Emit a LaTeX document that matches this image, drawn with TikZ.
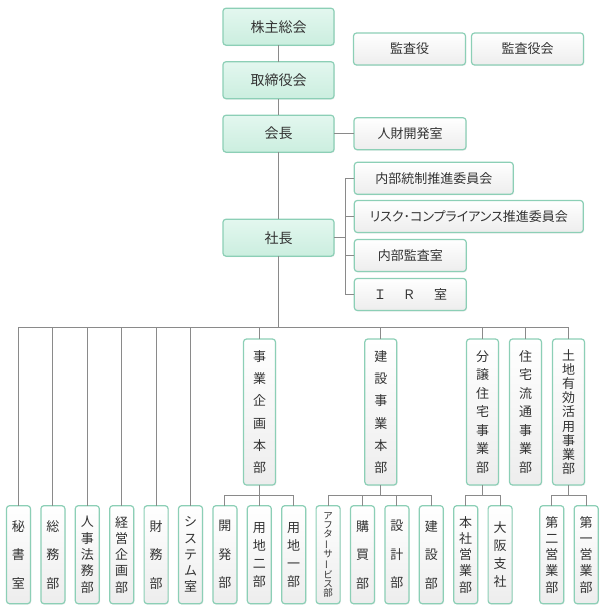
\documentclass[tikz,border=0pt]{standalone}
\usepackage{fontspec}
\setmainfont{Noto Sans CJK JP}
\newfontfamily\jpprop[RawFeature=+palt]{Noto Sans CJK JP}
\usepackage{graphicx}
\usetikzlibrary{positioning, shadows}
\definecolor{boxline}{HTML}{8CCFB6}
\definecolor{mintA}{HTML}{E3F7EF}
\definecolor{mintB}{HTML}{CBEEDF}
\definecolor{paleB}{HTML}{EDEDED}
\definecolor{ink}{HTML}{333333}
\definecolor{wire}{HTML}{8A8A8A}
\newcommand{\vbar}{\rotatebox[origin=c]{90}{ー}}

\begin{document}
\begin{tikzpicture}[x=1pt, y=-1pt,
    box/.style={draw=boxline, line width=1.2pt, rounded corners=3pt, inner sep=0pt, outer sep=0pt, text=ink,
        drop shadow={opacity=0.12, shadow xshift=0.8pt, shadow yshift=-1pt}},
    chief/.style={box, top color=mintA, bottom color=mintB, minimum width=111pt, minimum height=37pt,
        font=\fontsize{14pt}{16pt}\selectfont},
    staff/.style={box, top color=white, bottom color=paleB, minimum width=112pt, minimum height=32pt,
        font=\fontsize{13pt}{15pt}\selectfont},
    dept/.style={box, top color=white, bottom color=paleB, minimum width=32pt, minimum height=146pt,
        align=center, anchor=north, font=\fontsize{13pt}{#1}\selectfont},
    unit/.style={box, top color=white, bottom color=paleB, minimum width=24pt, minimum height=98pt,
        align=center, font=\fontsize{13pt}{#1}\selectfont},
    link/.style={draw=wire, line width=1pt}]
    \useasboundingbox (0,0) rectangle (604,610);
    % top of the chain
    \node[chief] (kabunushi) at (278.5,26.7) {株主総会};
    \node[chief] (torishimari) [below=16.5pt of kabunushi] {取締役会};
    \node[chief] (kaicho) [below=16.5pt of torishimari] {会長};
    \node[chief] (shacho) [below=67pt of kaicho] {社長};

    \node[staff] (kansayaku) at (409.5,49) {監査役};
    \node[staff] (kansayakukai) [right=6pt of kansayaku] {監査役会};
    \node[staff] (jinzai) [right=20pt of kaicho] {人財開発室};

    \node[staff, minimum width=159pt, anchor=west] (naibutosei) at (354.3,178.3) {内部統制推進委員会};
    \node[staff, minimum width=229pt, anchor=west] (risk) at (354.3,216.5) {\jpprop リスク･コンプライアンス推進委員会};
    \node[staff, anchor=west] (naibukansa) at (354.3,255.5) {内部監査室};
    \node[staff, anchor=west] (ir) at (354.3,294.5) {Ｉ\hspace{16pt}Ｒ\hspace{18.5pt}室\hspace{7pt}};

    % divisions
    \node[dept=22.3pt] (jigyo) at (259.5,339) {事\\業\\企\\画\\本\\部};
    \node[dept=22.3pt] (kensetsu) at (380.8,339) {建\\設\\事\\業\\本\\部};
    \node[dept=18.5pt] (bunjo) at (482.5,339) {分\\譲\\住\\宅\\事\\業\\部};
    \node[dept=18.5pt] (jutaku) at (525.5,339) {住\\宅\\流\\通\\事\\業\\部};
    \node[dept=14.2pt] (tochi) at (568.5,339) {土\\地\\有\\効\\活\\用\\事\\業\\部};

    % bottom row
    \node[unit=28.5pt, anchor=north] (hisho) at (18.5,505.7) {秘\\書\\室};
    \node[unit=28.5pt] (somu) [right=10.4pt of hisho] {総\\務\\部};
    \node[unit=16.3pt] (jinji) [right=10.4pt of somu] {人\\事\\法\\務\\部};
    \node[unit=16.3pt] (keiei) [right=10.4pt of jinji] {経\\営\\企\\画\\部};
    \node[unit=28.5pt] (zaimu) [right=10.4pt of keiei] {財\\務\\部};
    \node[unit=16.3pt] (system) [right=10.4pt of zaimu] {シ\\ス\\テ\\ム\\室};
    \node[unit=28.5pt] (kaihatsu) [right=10.4pt of system] {開\\発\\部};
    \node[unit=18pt] (youchi2) [right=10.4pt of kaihatsu] {用\\地\\二\\部};
    \node[unit=18pt] (youchi1) [right=10.4pt of youchi2] {用\\地\\一\\部};
    \node[unit=9.1pt, font=\fontsize{9.5pt}{9.1pt}\selectfont] (after) [right=10.4pt of youchi1] {ア\\フ\\タ\\\vbar\\サ\\\vbar\\ビ\\ス\\部};
    \node[unit=28.5pt] (kobai) [right=10.4pt of after] {購\\買\\部};
    \node[unit=28.5pt] (sekkei) [right=10.4pt of kobai] {設\\計\\部};
    \node[unit=28.5pt] (kensetsubu) [right=10.4pt of sekkei] {建\\設\\部};
    \node[unit=16.3pt] (honsha) [right=10.4pt of kensetsubu] {本\\社\\営\\業\\部};
    \node[unit=18pt] (osaka) [right=10.4pt of honsha] {大\\阪\\支\\社};
    \node[unit=16.3pt] (daini) [right=27.7pt of osaka] {第\\二\\営\\業\\部};
    \node[unit=16.3pt] (daiichi) [right=10.4pt of daini] {第\\一\\営\\業\\部};

    % connectors
    \draw[link] (kabunushi) -- (torishimari);
    \draw[link] (torishimari) -- (kaicho);
    \draw[link] (kaicho) -- (shacho);
    \draw[link] (kaicho) -- (jinzai);
    \draw[link] (shacho.east) -- ++(11.5,0) coordinate (br);
    \draw[link] (br) |- (naibutosei.west);
    \draw[link] (br) |- (risk.west);
    \draw[link] (br) |- (naibukansa.west);
    \draw[link] (br) |- (ir.west);

    \coordinate (bus) at (shacho.south |- 0,327);
    \draw[link] (shacho) -- (bus);
    \draw[link] (hisho.north) |- (bus);
    \draw[link] (somu.north) |- (bus);
    \draw[link] (jinji.north) |- (bus);
    \draw[link] (keiei.north) |- (bus);
    \draw[link] (zaimu.north) |- (bus);
    \draw[link] (system.north) |- (bus);
    \draw[link] (jigyo.north) |- (bus);
    \draw[link] (kensetsu.north) |- (bus);
    \draw[link] (bunjo.north) |- (bus);
    \draw[link] (jutaku.north) |- (bus);
    \draw[link] (tochi.north) |- (bus);

    \draw[link] (jigyo.south) -- ++(0,10) coordinate (jb);
    \draw[link] (jb) -| (kaihatsu.north);
    \draw[link] (jb) -| (youchi2.north);
    \draw[link] (jb) -| (youchi1.north);
    \draw[link] (kensetsu.south) -- ++(0,10) coordinate (kb);
    \draw[link] (kb) -| (after.north);
    \draw[link] (kb) -| (kobai.north);
    \draw[link] (kb) -| (sekkei.north);
    \draw[link] (kb) -| (kensetsubu.north);
    \draw[link] (bunjo.south) -- ++(0,10) coordinate (bb);
    \draw[link] (bb) -| (honsha.north);
    \draw[link] (bb) -| (osaka.north);
    \draw[link] (tochi.south) -- ++(0,10) coordinate (tb);
    \draw[link] (tb) -| (daini.north);
    \draw[link] (tb) -| (daiichi.north);
\end{tikzpicture}
\end{document}
